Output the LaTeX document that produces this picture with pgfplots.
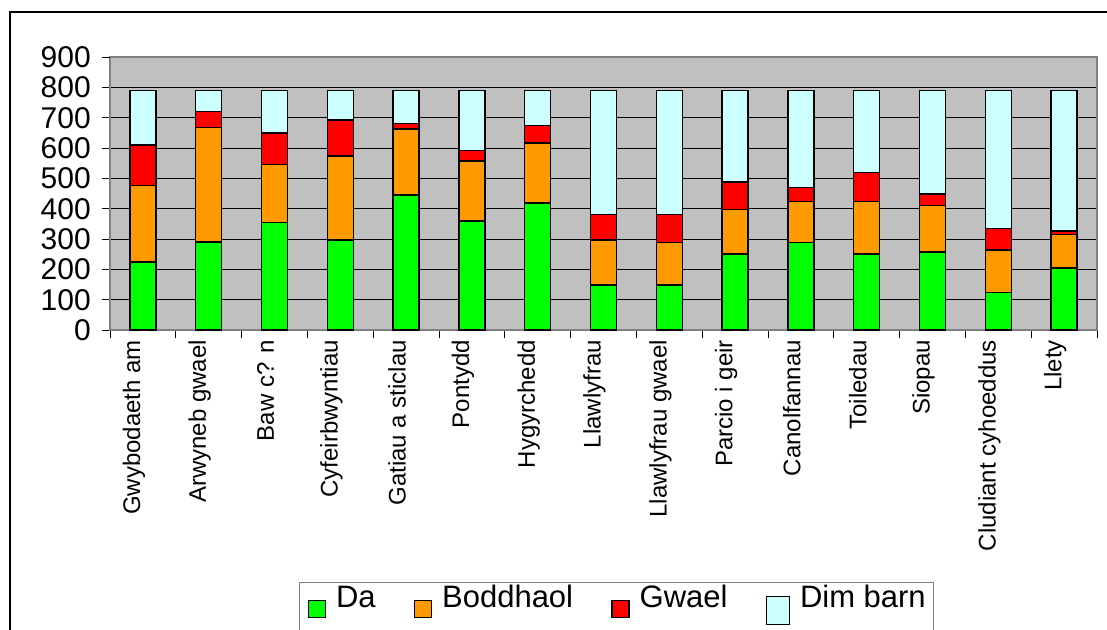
\documentclass[border=0pt]{standalone}
\usepackage{pgfplots}
\usepackage{pgfplotstable}
\pgfplotsset{compat=1.18}
\usepackage{fontspec}
\setmainfont{Liberation Sans}
\definecolor{cDa}{HTML}{00FF00}
\definecolor{cBo}{HTML}{FF9900}
\definecolor{cGw}{HTML}{FF0000}
\definecolor{cDi}{HTML}{CCFFFF}
\definecolor{plotbg}{HTML}{C0C0C0}
\definecolor{axgray}{HTML}{808080}

\pgfplotstableread{
idx Da  Bo  Gw  Di
0   225 251 134 180
1   290 378 53  69
2   355 190 105 140
3   297 276 119 98
4   445 217 19  109
5   360 198 33  199
6   418 199 57  116
7   148 148 84  410
8   148 141 91  410
9   250 148 90  302
10  289 135 45  321
11  251 173 96  270
12  258 153 38  341
13  124 140 71  455
14  205 110 12  463
}\datatable

\begin{document}
\begin{tikzpicture}
\useasboundingbox (0bp,0bp) rectangle (1107bp,-630bp);
\draw[line width=2bp] (10bp,-640bp) -- (10bp,-12bp) -- (1110bp,-12bp);
\begin{axis}[
  at={(110bp,-330bp)}, anchor=south west,
  scale only axis, width=987bp, height=273bp,
  ybar stacked, bar width=26bp,
  xmin=-0.5, xmax=14.5, ymin=0, ymax=900,
  ytick={0,100,...,800},
  extra y ticks={900},
  extra y tick style={grid=none},
  ymajorgrids,
  major grid style={black, line width=0.9bp},
  xtick={-0.5,0.5,...,14.5},
  xticklabels={,,,,,,,,,,,,,,,},
  extra x ticks={0,1,2,3,4,5,6,7,8,9,10,11,12,13,14},
  extra x tick labels={Gwybodaeth am,Arwyneb gwael,Baw c? n,Cyfeirbwyntiau,Gatiau a sticlau,Pontydd,Hygyrchedd,Llawlyfrau,Llawlyfrau gwael,Parcio i geir,Canolfannau,Toiledau,Siopau,Cludiant cyhoeddus,Llety},
  extra x tick style={major tick length=0pt, grid=none,
    xticklabel style={xshift=-9bp, rotate=90, anchor=east, inner sep=0pt, inner xsep=10bp,
      font=\fontsize{24bp}{25bp}\selectfont}},
  xtick pos=bottom, ytick pos=left,
  tick align=outside, major tick length=8bp,
  tick style={black, line width=1bp},
  axis line style={axgray, line width=1.5bp},
  axis background/.style={fill=plotbg},
  /pgf/number format/assume math mode=true,
  yticklabel style={font=\fontsize{30bp}{31bp}\selectfont, inner sep=0pt, xshift=-11bp},
  legend columns=4,
  legend style={at={(axis description cs:0.1915,-0.923)}, anchor=north west,
    draw=axgray, line width=1bp, font=\fontsize{31bp}{32bp}\selectfont,
    inner xsep=8bp, inner ysep=2bp,
    nodes={inner xsep=0pt, inner ysep=1bp, text depth=30bp}},
  legend cell align=left,
  /tikz/every odd column/.append style={column sep=10bp},
  /tikz/every even column/.append style={column sep=38bp},
]
\addplot[fill=cDa, draw=black, line width=1.5bp,
  legend image code/.code={\draw[fill=cDa,draw=black,line width=1.5bp] (0bp,-6bp) rectangle (17bp,11bp);}]
  table[x=idx,y=Da]{\datatable};
\addplot[fill=cBo, draw=black, line width=1.5bp,
  legend image code/.code={\draw[fill=cBo,draw=black,line width=1.5bp] (0bp,-6bp) rectangle (17bp,11bp);}]
  table[x=idx,y=Bo]{\datatable};
\addplot[fill=cGw, draw=black, line width=1.5bp,
  legend image code/.code={\draw[fill=cGw,draw=black,line width=1.5bp] (0bp,-6bp) rectangle (17bp,11bp);}]
  table[x=idx,y=Gw]{\datatable};
\addplot[fill=cDi, draw=black, line width=1.5bp,
  legend image code/.code={\draw[fill=cDi,draw=black,line width=1.5bp] (0bp,-13bp) rectangle (23bp,15bp);}]
  table[x=idx,y=Di]{\datatable};
\legend{Da,Boddhaol,Gwael,Dim barn}
\end{axis}
\end{tikzpicture}
\end{document}
